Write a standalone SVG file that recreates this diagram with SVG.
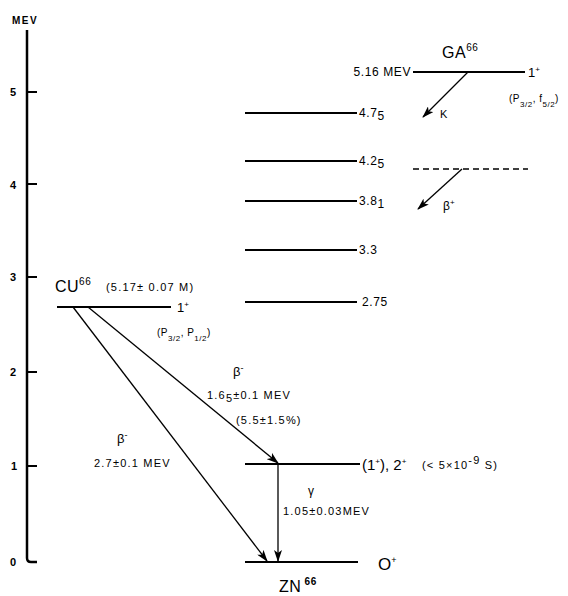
<svg xmlns="http://www.w3.org/2000/svg" width="568" height="596" viewBox="0 0 568 596">
<style>
text{font-family:"Liberation Sans","DejaVu Sans",sans-serif;fill:#000}
.lvl{stroke:#000;stroke-width:2;fill:none}
.ax{stroke:#000;stroke-width:2.5;fill:none}
.tick{stroke:#000;stroke-width:1.8;fill:none}
.arr{stroke:#000;stroke-width:1.3;fill:none;marker-end:url(#ah)}
.lab{font-size:12px;letter-spacing:0.6px}
.sm{font-size:11px;letter-spacing:1.2px}
.big{font-size:16px;letter-spacing:0.5px}
.axl{font-size:11px;font-weight:bold}
</style>
<defs>
<marker id="ah" viewBox="0 0 12 8" refX="11" refY="4" markerWidth="12" markerHeight="8" markerUnits="userSpaceOnUse" orient="auto">
<path d="M0,0 L12,4 L0,8 L3,4 Z" fill="#000"/>
</marker>
</defs>
<g id="axis">
<text x="12" y="24" font-size="10" font-weight="bold" letter-spacing="1.5">MEV</text>
<path class="ax" d="M27,30 V558 Q27,562 31,562 H37"/>
<path class="tick" d="M27,92 H37 M27,184 H37 M27,277 H37 M27,372 H37 M27,466 H37"/>
<text x="10" y="96" class="axl">5</text>
<text x="10" y="189" class="axl">4</text>
<text x="10" y="281" class="axl">3</text>
<text x="10" y="376" class="axl">2</text>
<text x="11" y="470" class="axl">1</text>
<text x="10" y="566" class="axl">0</text>
</g>
<g id="ga66">
<line class="lvl" x1="413" y1="72" x2="525" y2="72"/>
<text x="411" y="76" class="lab" text-anchor="end">5.16 MEV</text>
<text x="442" y="58" class="big">GA<tspan font-size="10" dy="-7">66</tspan></text>
<text x="528" y="77" font-size="13">1<tspan font-size="8" dy="-5">+</tspan></text>
<text x="509" y="102" font-size="10" letter-spacing="0.5">(P<tspan font-size="8" dy="5">3/2</tspan><tspan dy="-5">, f</tspan><tspan font-size="8" dy="5">5/2</tspan><tspan dy="-5">)</tspan></text>
<text x="440" y="118" class="sm">K</text>
</g>
<g id="ga66-beta-plus">
<line x1="413" y1="169" x2="528" y2="169" stroke="#000" stroke-width="1.6" stroke-dasharray="6,4"/>
<text x="443" y="210" font-size="12">β<tspan font-size="8" dy="-5">+</tspan></text>
</g>
<g id="zn-4.75">
<line class="lvl" x1="245" y1="113" x2="357" y2="113"/>
<text x="359" y="117" class="lab">4.7<tspan dy="3">5</tspan></text>
</g>
<g id="zn-4.25">
<line class="lvl" x1="245" y1="161" x2="357" y2="161"/>
<text x="359" y="165" class="lab">4.2<tspan dy="3">5</tspan></text>
</g>
<g id="zn-3.81">
<line class="lvl" x1="245" y1="201" x2="357" y2="201"/>
<text x="359" y="205" class="lab">3.8<tspan dy="3">1</tspan></text>
</g>
<g id="zn-3.3">
<line class="lvl" x1="245" y1="250" x2="357" y2="250"/>
<text x="359" y="254" class="lab">3.3</text>
</g>
<g id="zn-2.75">
<line class="lvl" x1="245" y1="302" x2="357" y2="302"/>
<text x="362" y="306" class="lab">2.75</text>
</g>
<g id="cu66">
<line class="lvl" x1="57" y1="307" x2="171" y2="307"/>
<text x="55" y="292" class="big">CU<tspan font-size="10" dy="-7">66</tspan></text>
<text x="106" y="291" class="sm">(5.17± 0.07 M)</text>
<text x="177" y="312" font-size="13">1<tspan font-size="8" dy="-5">+</tspan></text>
<text x="157" y="336" font-size="10" letter-spacing="0.5">(P<tspan font-size="8" dy="5">3/2</tspan><tspan dy="-5">, P</tspan><tspan font-size="8" dy="5">1/2</tspan><tspan dy="-5">)</tspan></text>
</g>
<g id="zn-1.05">
<line class="lvl" x1="245" y1="464" x2="360" y2="464"/>
<text x="362" y="470" font-size="15">(1<tspan font-size="8" dy="-6">+</tspan><tspan dy="6">), 2</tspan><tspan font-size="8" dy="-6">+</tspan></text>
<text x="422" y="469" class="sm">(&lt; 5×10<tspan dy="-5">-9</tspan><tspan dy="5"> S)</tspan></text>
</g>
<g id="zn66">
<line class="lvl" x1="245" y1="562" x2="358" y2="562"/>
<text x="378" y="570" font-size="17">O<tspan font-size="9" dy="-7">+</tspan></text>
<text x="279" y="592" class="big">ZN<tspan font-size="10" font-weight="bold" dy="-7"> 66</tspan></text>
</g>
<g id="labels">
<text x="233" y="376" font-size="13">β<tspan font-size="9" dy="-5">-</tspan></text>
<text x="207" y="399" class="sm">1.6<tspan dy="3">5</tspan><tspan dy="-3">±0.1 MEV</tspan></text>
<text x="236" y="424" class="sm">(5.5±1.5%)</text>
<text x="117" y="443" font-size="13">β<tspan font-size="9" dy="-5">-</tspan></text>
<text x="94" y="467" class="sm">2.7±0.1 MEV</text>
<text x="308" y="495" font-size="12">γ</text>
<text x="283" y="515" class="sm">1.05±0.03MEV</text>
</g>
<g id="connectors">
<line class="arr" x1="468" y1="72" x2="423" y2="117"/>
<line class="arr" x1="462" y1="169" x2="418" y2="209"/>
<line class="arr" x1="73" y1="307" x2="267" y2="561"/>
<line class="arr" x1="88" y1="307" x2="278" y2="463"/>
<line class="arr" x1="278" y1="464" x2="278" y2="561"/>
</g>
</svg>
